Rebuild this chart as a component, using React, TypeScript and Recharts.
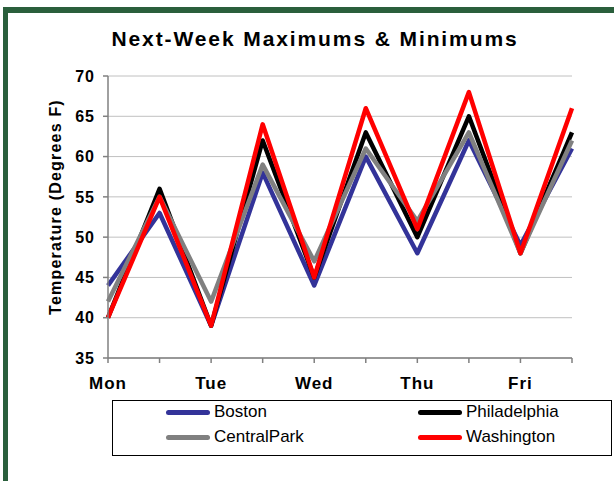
import React from 'react';
import { LineChart, Line, XAxis, YAxis, CartesianGrid } from 'recharts';

const points = ['p0', 'p1', 'p2', 'p3', 'p4', 'p5', 'p6', 'p7', 'p8', 'p9'];
const dayLabels = ['Mon', '', 'Tue', '', 'Wed', '', 'Thu', '', 'Fri', ''];
const boston = [44, 53, 39, 58, 44, 60, 48, 62, 49, 61];
const philadelphia = [40, 56, 39, 62, 45, 63, 50, 65, 48, 63];
const centralPark = [42, 55, 42, 59, 47, 61, 52, 63, 48, 62];
const washington = [40, 55, 39, 64, 45, 66, 51, 68, 48, 66];
const yTicks = [35, 40, 45, 50, 55, 60, 65, 70];

const series = [
  { key: 'Boston', values: boston, color: '#333399' },
  { key: 'Philadelphia', values: philadelphia, color: '#000000' },
  { key: 'CentralPark', values: centralPark, color: '#808080' },
  { key: 'Washington', values: washington, color: '#ff0000' },
];

const data = points.map((p, i) => {
  const row: Record<string, any> = { p };
  series.forEach((s) => {
    row[s.key] = s.values[i];
  });
  return row;
});

const FONT = '"Liberation Sans", Arial, sans-serif';

const YLabel = () => (
  <text
    x={55}
    y={207}
    transform="rotate(-90, 55, 207)"
    textAnchor="middle"
    dominantBaseline="central"
    fontFamily={FONT}
    fontWeight="bold"
    fontSize={16}
    letterSpacing={1.2}
    fill="#000"
  >
    Temperature (Degrees F)
  </text>
);

export default function App() {
  const legendOrder = [
    [series[0], series[1]],
    [series[2], series[3]],
  ];
  return (
    <div
      style={{
        position: 'absolute',
        left: 0,
        top: 0,
        width: 614,
        height: 481,
        background: '#fff',
        overflow: 'hidden',
        fontFamily: FONT,
      }}
    >
      <div
        style={{
          position: 'absolute',
          left: 3,
          top: 7,
          width: 640,
          height: 500,
          borderTop: '6px solid #2a5f3c',
          borderLeft: '5px solid #2a5f3c',
          boxSizing: 'border-box',
        }}
      />
      <div
        style={{
          position: 'absolute',
          left: 0,
          top: 26,
          width: 630,
          textAlign: 'center',
          fontWeight: 'bold',
          fontSize: 21,
          letterSpacing: 1.9,
          color: '#000',
          lineHeight: '26px',
          whiteSpace: 'nowrap',
        }}
      >
        Next-Week Maximums &amp; Minimums
      </div>
      <div style={{ position: 'absolute', left: 0, top: 0 }}>
        <LineChart
          width={614}
          height={481}
          data={data}
          margin={{ top: 76, right: 42, left: 0, bottom: 93 }}
        >
          <CartesianGrid vertical={false} stroke="#c0c0c0" strokeWidth={1} />
          <XAxis
            dataKey="p"
            interval={0}
            height={30}
            stroke="#808080"
            strokeWidth={1.5}
            tickSize={5}
            tickMargin={14}
            tickFormatter={(v: any, i: number) => dayLabels[i]}
            tick={{
              fill: '#000',
              fontFamily: FONT,
              fontWeight: 'bold',
              fontSize: 17,
              letterSpacing: 1,
            }}
          />
          <YAxis
            width={108}
            domain={[35, 70]}
            ticks={yTicks}
            interval={0}
            stroke="#808080"
            strokeWidth={1.5}
            tickSize={5}
            tickMargin={8}
            tick={{
              fill: '#000',
              fontFamily: FONT,
              fontWeight: 'bold',
              fontSize: 16,
              letterSpacing: 1,
            }}
            label={{ content: () => <YLabel /> }}
          />
          {series.map((s) => (
            <Line
              key={s.key}
              dataKey={s.key}
              stroke={s.color}
              strokeWidth={4.5}
              strokeLinejoin="round"
              dot={false}
              activeDot={false}
              isAnimationActive={false}
            />
          ))}
        </LineChart>
      </div>
      <div
        style={{
          position: 'absolute',
          left: 112,
          top: 400,
          width: 500,
          height: 56,
          border: '1px solid #000',
          boxSizing: 'border-box',
          background: '#fff',
        }}
      />
      {legendOrder.map((row, r) =>
        row.map((s, c) => {
          const lineLeft = c === 0 ? 166 : 418;
          const y = r === 0 ? 412 : 437;
          return (
            <React.Fragment key={s.key}>
              <div
                style={{
                  position: 'absolute',
                  left: lineLeft,
                  top: y - 2.5,
                  width: 44,
                  height: 5,
                  borderRadius: 3,
                  background: s.color,
                }}
              />
              <div
                style={{
                  position: 'absolute',
                  left: lineLeft + 48,
                  top: y - 11,
                  fontSize: 17,
                  lineHeight: '22px',
                  color: '#000',
                  whiteSpace: 'nowrap',
                }}
              >
                {s.key}
              </div>
            </React.Fragment>
          );
        })
      )}
    </div>
  );
}
